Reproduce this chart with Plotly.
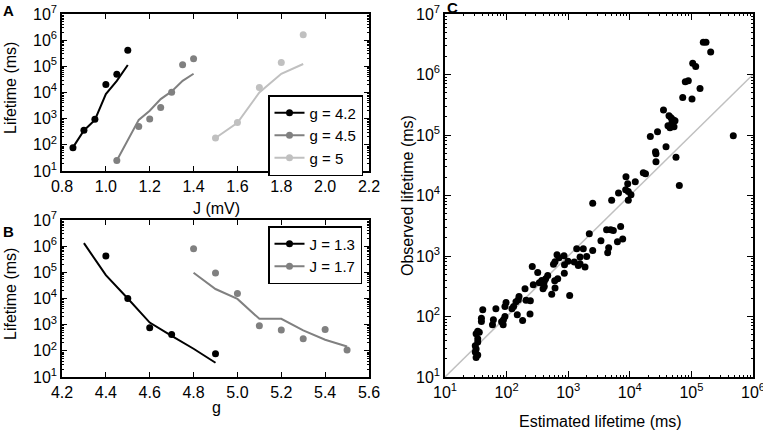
import plotly.graph_objects as go

W, H = 763, 430

# ---------------- Panel A: lifetime vs J ----------------
J_g42 = [0.85, 0.90, 0.95, 1.00, 1.05, 1.10]
obs_g42 = [78, 360, 950, 20000, 50000, 410000]
est_g42 = [80, 355, 900, 8700, 28000, 112000]

J_g45 = [1.05, 1.15, 1.20, 1.25, 1.30, 1.35, 1.40]
obs_g45 = [25, 500, 980, 2700, 10300, 115000, 195000]
est_g45 = [25, 900, 2000, 5600, 11000, 28000, 52000]

J_g5 = [1.5, 1.6, 1.7, 1.8, 1.9]
obs_g5 = [183, 710, 15600, 141000, 1600000]
est_g5 = [183, 700, 10000, 52000, 123000]

# ---------------- Panel B: lifetime vs g ----------------
g_J13_est = [4.3, 4.4, 4.5, 4.6, 4.7, 4.8, 4.9]
est_J13 = [1300000, 78000, 10000, 1200, 370, 120, 35]
g_J13_obs = [4.4, 4.5, 4.6, 4.7, 4.9]
obs_J13 = [417000, 10000, 760, 420, 78]

g_J17 = [4.8, 4.9, 5.0, 5.1, 5.2, 5.3, 5.4, 5.5]
obs_J17 = [800000, 94000, 15500, 905, 630, 290, 656, 107]
est_J17 = [96000, 23000, 9600, 1670, 1670, 600, 265, 147]

# ---------------- Panel C: observed vs estimated ----------------
est_C = [32, 34, 31, 32, 31, 34, 34, 32, 34, 36,
         39, 39, 41, 61, 59, 67, 94, 89, 83, 88, 98, 94,
         130, 122, 159, 155, 142, 149, 182,
         199, 243, 240, 207, 261, 320, 271,
         465, 431, 409, 372, 340, 409, 390, 540, 611, 676, 604, 865, 1057,
         658, 710, 611, 577, 855, 993, 871,
         1374, 1758, 1995, 1556, 1256, 1459, 1875, 1556,
         2200, 2500, 3400, 4200, 4900, 5400, 7100, 4540, 4375, 6300, 7670,
         2500, 5080, 6560, 8670, 9250, 8570, 9460, 10450, 9460, 12270, 16560, 17990,
         21530, 28180, 26140, 26600, 26600, 38730, 56230, 63700, 35230,
         43290, 46670, 50270, 54170, 48400, 41690, 44960, 52200,
         72300, 102300, 79600, 89100, 138000, 105000, 117500, 156000, 172500, 205600, 478600]
obs_C = [21, 23, 26, 29, 33, 38, 43, 52, 57, 55,
         94, 83, 129, 88, 73, 134, 100, 88, 82, 73, 170, 146,
         146, 134, 214, 189, 175, 107, 86,
         287, 182, 110, 185, 670, 533, 334,
         476, 420, 379, 394, 361, 313, 287, 234, 295, 420, 389, 521, 222,
         1047, 933, 802, 729, 1007, 817, 716,
         1316, 1316, 981, 959, 793, 697, 656, 743,
         2330, 1233, 1783, 2710, 2710, 2640, 3070, 1367, 1130, 1718, 1901,
         7430, 8330, 10960, 20380, 15600, 12420, 11640, 10270, 8330, 16840, 23720, 22840,
         94440, 113000, 52750, 48900, 36060, 63800, 42800, 14630, 258800,
         207600, 192400, 178300, 171700, 159100, 141900, 131500, 136700,
         416900, 392000, 757000, 787000, 587000, 1540000, 1360000, 3410000, 3410000, 2350000, 97000]
diag_vals = [10, 1000000]

# ---------------- tick labels ----------------
decades = [10, 100, 1000, 10000, 100000, 1000000, 10000000]
decade_text = ["10<sup>1</sup>", "10<sup>2</sup>", "10<sup>3</sup>", "10<sup>4</sup>",
               "10<sup>5</sup>", "10<sup>6</sup>", "10<sup>7</sup>"]
J_ticks = [0.8, 1.0, 1.2, 1.4, 1.6, 1.8, 2.0, 2.2]
g_ticks = [4.2, 4.4, 4.6, 4.8, 5.0, 5.2, 5.4, 5.6]

BLACK = "#000000"
GRAY = "#808080"
LGRAY = "#c0c0c0"
FONT = "Liberation Sans"

minor_vals = [m * 10 ** k for k in range(1, 7) for m in range(2, 10)]

fig = go.Figure()

def add_pair(x_line, y_line, x_pts, y_pts, color, name, xa, ya, legend):
    fig.add_trace(go.Scatter(x=x_line, y=y_line, mode="lines",
                             line=dict(color=color, width=2),
                             showlegend=False, xaxis=xa, yaxis=ya, hoverinfo="skip"))
    fig.add_trace(go.Scatter(x=x_pts, y=y_pts, mode="markers",
                             marker=dict(color=color, size=7),
                             showlegend=False, xaxis=xa, yaxis=ya))
    fig.add_trace(go.Scatter(x=[None], y=[None], mode="lines+markers",
                             line=dict(color=color, width=2),
                             marker=dict(color=color, size=7),
                             name=name, legend=legend, xaxis=xa, yaxis=ya))

add_pair(J_g42, est_g42, J_g42, obs_g42, BLACK, "g = 4.2", "x", "y", "legend")
add_pair(J_g45, est_g45, J_g45, obs_g45, GRAY, "g = 4.5", "x", "y", "legend")
add_pair(J_g5, est_g5, J_g5, obs_g5, LGRAY, "g = 5", "x", "y", "legend")

add_pair(g_J13_est, est_J13, g_J13_obs, obs_J13, BLACK, "J = 1.3", "x2", "y2", "legend2")
add_pair(g_J17, est_J17, g_J17, obs_J17, GRAY, "J = 1.7", "x2", "y2", "legend2")

fig.add_trace(go.Scatter(x=diag_vals, y=diag_vals, mode="lines",
                         line=dict(color=LGRAY, width=1.5),
                         showlegend=False, xaxis="x3", yaxis="y3"))
fig.add_trace(go.Scatter(x=est_C, y=obs_C, mode="markers",
                         marker=dict(color=BLACK, size=7),
                         showlegend=False, xaxis="x3", yaxis="y3"))

def base_axis(**kw):
    d = dict(showline=True, linecolor="black", linewidth=1.5, mirror="ticks",
             ticks="inside", ticklen=5, tickwidth=1, tickcolor="black",
             showgrid=False, zeroline=False, automargin=False,
             ticklabeloverflow="allow",
             tickfont=dict(size=16, color="black", family=FONT))
    d.update(kw)
    return d

def log_axis(rng, domain, anchor, ticklen=5):
    return base_axis(type="log", range=rng, domain=domain, anchor=anchor,
                     tickmode="array", tickvals=decades, ticktext=decade_text,
                     ticklen=ticklen,
                     minor=dict(ticks="inside", ticklen=2.5, tickwidth=1,
                                tickcolor="black", tickmode="array",
                                tickvals=minor_vals, showgrid=False))

def px_x(a, b):
    return [a / W, b / W]

def px_y(top, bottom):
    return [1 - bottom / H, 1 - top / H]

fig.update_layout(
    width=W, height=H,
    margin=dict(l=0, r=0, t=0, b=0, pad=0, autoexpand=False),
    paper_bgcolor="white", plot_bgcolor="white",
    font=dict(family=FONT, size=16, color="black"),
    xaxis=base_axis(range=[0.8, 2.2], domain=px_x(62, 369), anchor="y",
                    tickmode="array", tickvals=J_ticks, tickformat=".1f"),
    yaxis=log_axis([1, 7], px_y(14, 171), "x"),
    xaxis2=base_axis(range=[4.2, 5.6], domain=px_x(62, 369), anchor="y2",
                     tickmode="array", tickvals=g_ticks, tickformat=".1f"),
    yaxis2=log_axis([1, 7], px_y(220, 377), "x2"),
    xaxis3=log_axis([1, 6], px_x(445, 753), "y3", ticklen=6),
    yaxis3=log_axis([1, 7], px_y(14, 377), "x3", ticklen=6),
    legend=dict(x=363 / W, y=1 - 95 / H, xanchor="right", yanchor="top",
                bordercolor="black", borderwidth=1.5, bgcolor="white",
                font=dict(size=15, family=FONT)),
    legend2=dict(x=362 / W, y=1 - 226 / H, xanchor="right", yanchor="top",
                 bordercolor="black", borderwidth=1.5, bgcolor="white",
                 font=dict(size=15, family=FONT)),
)

def ann(text, x, y, size=16, bold=False, angle=0):
    fig.add_annotation(text=("<b>%s</b>" % text) if bold else text,
                       x=x / W, y=1 - y / H, xref="paper", yref="paper",
                       showarrow=False, textangle=angle,
                       font=dict(size=size, family=FONT, color="black"),
                       xanchor="center", yanchor="middle")

ann("A", 8, 10, size=15, bold=True)
ann("B", 8, 231, size=15, bold=True)
ann("C", 452, 7, size=15, bold=True)
ann("Lifetime (ms)", 10, 88, angle=-90)
ann("Lifetime (ms)", 10, 294, angle=-90)
ann("J (mV)", 216, 208)
ann("g", 216, 407)
ann("Estimated lifetime (ms)", 600, 421)
ann("Observed lifetime (ms)", 408, 196, angle=-90)

fig.write_html("out.html",
               config={"displayModeBar": False},
               post_script="document.body.style.margin='0';document.body.style.overflow='hidden';")
